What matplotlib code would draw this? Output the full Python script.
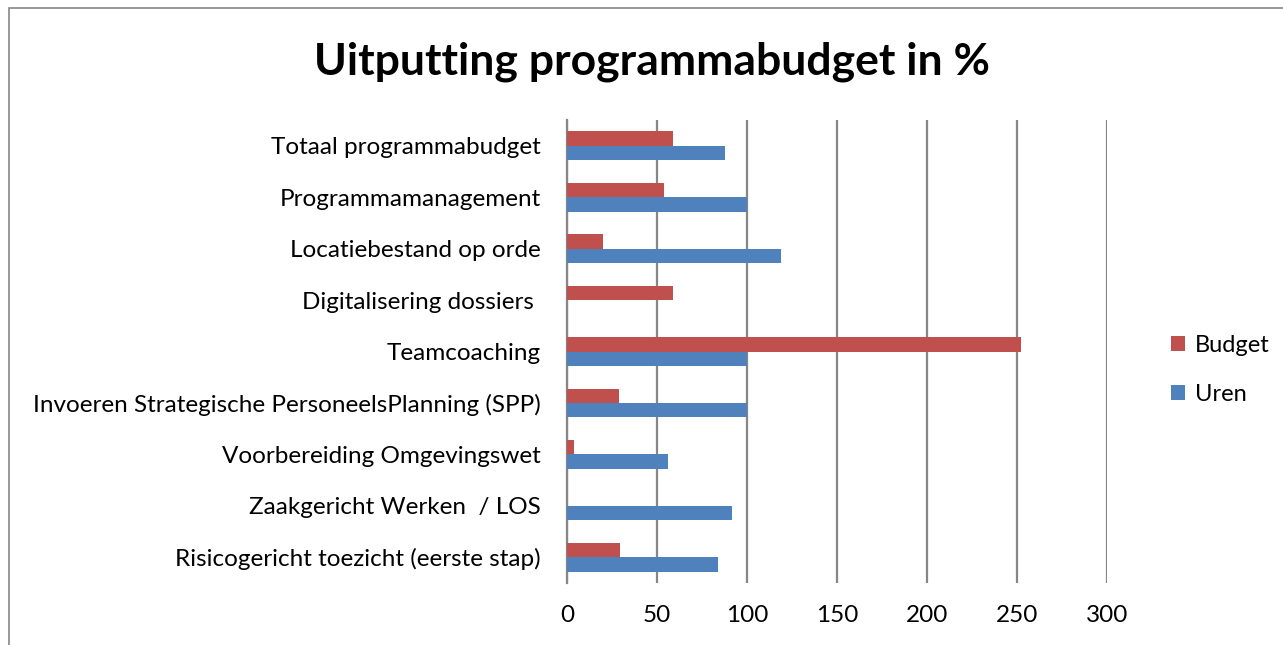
import matplotlib.pyplot as plt
from matplotlib.patches import Rectangle
import numpy as np

plt.rcParams['font.family'] = ['Lato', 'DejaVu Sans']

# categorieën (van onder naar boven)
categories = [
    'Risicogericht toezicht (eerste stap)',
    'Zaakgericht Werken  / LOS',
    'Voorbereiding Omgevingswet',
    'Invoeren Strategische PersoneelsPlanning (SPP)',
    'Teamcoaching',
    'Digitalisering dossiers ',
    'Locatiebestand op orde',
    'Programmamanagement',
    'Totaal programmabudget',
]
uren = [84, 91.5, 56, 100, 100, 0, 119, 100, 88]
budget = [29.5, 0, 4, 29, 252, 59, 20, 54, 59]
x_ticks = [0, 50, 100, 150, 200, 250, 300]

fig = plt.figure(figsize=(12.83, 6.45), dpi=100)
ax = fig.add_axes([567/1283, 1 - 583/645, 540/1283, 463/645])

y = np.arange(len(categories))
h = 0.28
ax.barh(y - h/2, uren, height=h, color='#4F81BD', label='Uren', zorder=3)
ax.barh(y + h/2, budget, height=h, color='#C0504D', label='Budget', zorder=3)

ax.set_xlim(0, 300)
ax.set_ylim(-0.5, len(categories) - 0.5)
ax.set_xticks(x_ticks)
ax.set_yticks(y)
ax.set_yticklabels(categories)
ax.tick_params(axis='both', length=0, labelsize=17.5)
ax.tick_params(axis='y', pad=19)
ax.tick_params(axis='x', pad=16)
ax.grid(axis='x', color='#868686', linewidth=1.6, zorder=0)
for s in ['top', 'right', 'bottom']:
    ax.spines[s].set_visible(False)
ax.spines['left'].set_color('#868686')
ax.spines['left'].set_linewidth(1.6)

fig.suptitle('Uitputting programmabudget in %', x=652/1283, y=1 - 62/645,
             va='center', fontsize=32, fontweight='bold')

handles, labels = ax.get_legend_handles_labels()
fig.legend(handles[::-1], labels[::-1], loc='center left',
           bbox_to_anchor=(1150/1283, 1 - 370/645), frameon=False,
           fontsize=17, handlelength=0.6, handleheight=0.6,
           handletextpad=0.4, labelspacing=1.2)

# kader rond de grafiek
fig.patches.append(Rectangle((9/1283, -0.1), 1.2, 1 - 8/645 + 0.1,
                             transform=fig.transFigure, fill=False,
                             edgecolor='#868686', linewidth=1.2))

plt.savefig('out.png', dpi=100)
